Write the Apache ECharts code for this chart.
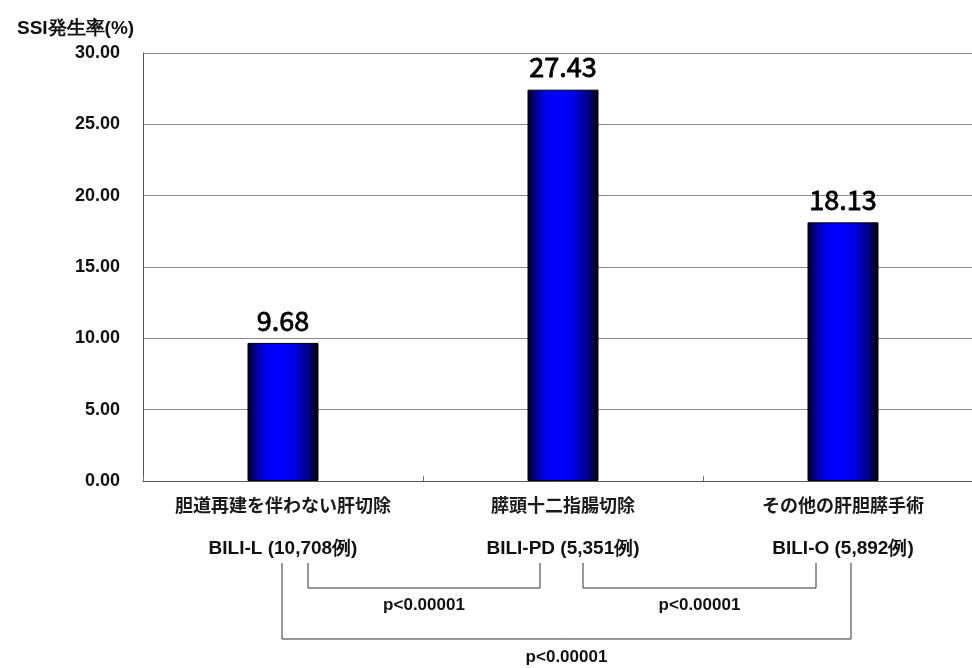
<!DOCTYPE html>
<html>
<head>
<meta charset="utf-8">
<script src="https://cdn.jsdelivr.net/npm/echarts@6/dist/echarts.min.js"></script>
<style>
  html, body { margin: 0; padding: 0; background: #fff; }
  #chart { width: 972px; height: 668px; }
</style>
</head>
<body>
<div id="chart"></div>
<script>
// Surgical site infection rate by procedure group
const categories = ['胆道再建を伴わない肝切除', '膵頭十二指腸切除', 'その他の肝胆膵手術'];
const groupCodes = ['BILI-L (10,708例)', 'BILI-PD (5,351例)', 'BILI-O (5,892例)'];
const ssiRates = [9.68, 27.43, 18.13];
const yMin = 0, yMax = 30, yStep = 5;
const pTexts = ['p<0.00001', 'p<0.00001', 'p<0.00001'];
// pairwise comparisons: [from category, to category]
const comparePairs = [[0, 1], [1, 2], [0, 2]];

const latin = '"Liberation Sans", Arial, sans-serif';
const cjk = '"Noto Sans CJK JP", sans-serif';

const chart = echarts.init(document.getElementById('chart'));

chart.setOption({
  animation: false,
  backgroundColor: '#ffffff',
  title: {
    text: 'SSI発生率(%)',
    left: 12, top: 14,
    textStyle: { fontSize: 19, fontWeight: 'bold', color: '#111', fontFamily: latin }
  },
  grid: { left: 143, top: 53, bottom: 187, right: -11, outerBoundsMode: 'none' },
  xAxis: {
    type: 'category',
    data: categories,
    axisLine: { lineStyle: { color: '#555', width: 1 } },
    axisTick: { show: true, inside: true, length: 5, lineStyle: { color: '#777' } },
    axisLabel: {
      interval: 0,
      margin: 13,
      formatter: (v, i) => '{a|' + v + '}\n{b|' + groupCodes[i] + '}',
      rich: {
        a: { fontSize: 18, fontFamily: cjk, fontWeight: 'bold', color: '#1a1a1a', lineHeight: 22 },
        b: { fontSize: 19, fontFamily: latin, fontWeight: 'bold', color: '#111', lineHeight: 66 }
      }
    }
  },
  yAxis: {
    type: 'value',
    min: yMin, max: yMax, interval: yStep,
    axisLine: { show: true, lineStyle: { color: '#555', width: 1 } },
    axisTick: { show: false },
    splitLine: { lineStyle: { color: '#8a8a8a', width: 1 } },
    axisLabel: {
      margin: 23,
      formatter: v => v.toFixed(2),
      fontSize: 18, fontWeight: 'bold', color: '#111', fontFamily: latin
    }
  },
  series: [{
    type: 'bar',
    data: ssiRates,
    barWidth: 71,
    itemStyle: {
      borderColor: '#000',
      borderWidth: 1,
      color: new echarts.graphic.LinearGradient(0, 0, 1, 0, [
        { offset: 0, color: '#000000' },
        { offset: 0.08, color: '#000070' },
        { offset: 0.26, color: '#0000f2' },
        { offset: 0.45, color: '#0000ff' },
        { offset: 0.64, color: '#0000ee' },
        { offset: 0.88, color: '#000078' },
        { offset: 1, color: '#000000' }
      ])
    },
    label: {
      show: true,
      position: 'top',
      distance: 9,
      formatter: p => p.value.toFixed(2),
      fontSize: 27, fontFamily: cjk, fontWeight: 'normal', color: '#000',
      textBorderColor: '#000', textBorderWidth: 0.8
    }
  }]
});

// Significance brackets beneath the category labels
const axisBottom = chart.convertToPixel({ yAxisIndex: 0 }, yMin);
const cx = i => chart.convertToPixel({ xAxisIndex: 0 }, i);
const bracketStyle = [
  { startOff: 25, endOff: -23, drop: 25, textGap: 17 },
  { startOff: 20, endOff: -27, drop: 25, textGap: 17 },
  { startOff: -1, endOff: 8, drop: 76, textGap: 18 }
];
const bracketTop = axisBottom + 82;
const elements = [];
comparePairs.forEach((pair, k) => {
  const s = bracketStyle[k];
  const x1 = cx(pair[0]) + s.startOff;
  const x2 = cx(pair[1]) + s.endOff;
  const yb = bracketTop + s.drop;
  elements.push({
    type: 'polyline',
    shape: { points: [[x1, bracketTop], [x1, yb], [x2, yb], [x2, bracketTop]] },
    style: { stroke: '#333', lineWidth: 1, fill: null }
  });
  elements.push({
    type: 'text',
    x: (x1 + x2) / 2, y: yb + s.textGap,
    style: {
      text: pTexts[k], fontSize: 17, fontWeight: 'bold', fontFamily: latin,
      fill: '#111', align: 'center', verticalAlign: 'middle'
    }
  });
});
chart.setOption({ graphic: { elements } });
</script>
</body>
</html>
